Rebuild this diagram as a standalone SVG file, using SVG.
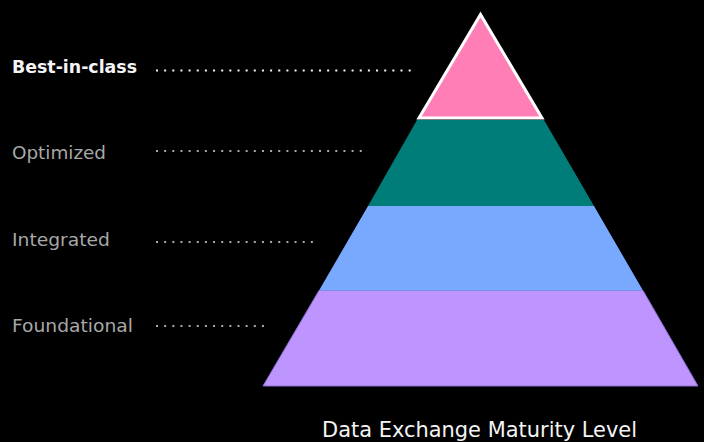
<svg xmlns="http://www.w3.org/2000/svg" width="704" height="442" viewBox="0 0 704 442">
<style>
.lbl{font-family:"DejaVu Sans","Noto Sans",sans-serif;font-size:17.5px;fill:#a8a8a8}
.lbl.on{fill:#f4f4f4;font-weight:bold}
.dots{stroke:#a8a8a8;stroke-width:2;stroke-dasharray:2 6.15;fill:none}
.dots.on{stroke:#f4f4f4}
.title{font-family:"DejaVu Sans","Noto Sans",sans-serif;font-size:21px;fill:#f4f4f4}
</style>
<rect width="704" height="442" fill="#000"/>
<g id="level-foundational">
<polygon points="319,290.5 643,290.5 698,386 263,386" fill="#be95ff" stroke="#8a6fd0" stroke-width="1"/>
<text class="lbl" x="12" y="332" textLength="121" lengthAdjust="spacingAndGlyphs">Foundational</text>
</g>
<g id="level-integrated">
<polygon points="368,206 594,206 643,290.5 319,290.5" fill="#78a9ff"/>
<text class="lbl" x="12" y="246" textLength="98" lengthAdjust="spacingAndGlyphs">Integrated</text>
</g>
<g id="level-optimized">
<polygon points="417,120 544,120 594,206 368,206" fill="#007d79"/>
<text class="lbl" x="12" y="159" textLength="94" lengthAdjust="spacingAndGlyphs">Optimized</text>
</g>
<g id="level-best">
<polygon points="480.5,14.5 419,118 542,118" fill="#ff7eb6" stroke="#ffffff" stroke-width="3" stroke-linejoin="miter"/>
<text class="lbl on" x="12" y="73" textLength="125" lengthAdjust="spacingAndGlyphs">Best-in-class</text>
</g>
<g id="connectors">
<line class="dots on" x1="156" y1="70.5" x2="412" y2="70.5"/>
<line class="dots" x1="156" y1="151" x2="365" y2="151"/>
<line class="dots" x1="156" y1="242" x2="314" y2="242"/>
<line class="dots" x1="156" y1="326" x2="265" y2="326"/>
</g>
<text class="title" x="322" y="437" textLength="315" lengthAdjust="spacingAndGlyphs">Data Exchange Maturity Level</text>
</svg>
